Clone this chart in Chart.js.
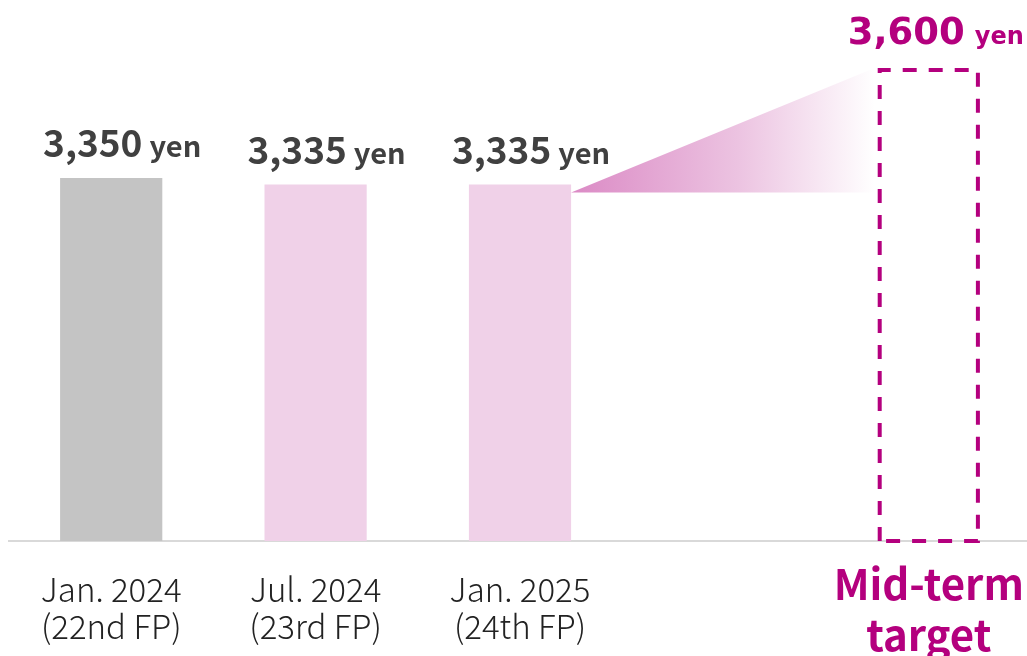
<!DOCTYPE html>
<html>
<head>
<meta charset="utf-8">
<script src="https://cdn.jsdelivr.net/npm/chart.js@4/dist/chart.umd.min.js"></script>
<style>
  html, body { margin: 0; padding: 0; background: #ffffff; overflow: hidden; }
  #wrap { width: 1031px; height: 656px; position: relative; }
</style>
</head>
<body>
<div id="wrap"><canvas id="chart"></canvas></div>
<script>
// Fiscal periods (x-axis), dividend per unit (yen) and styling per bar
const periodLabels = [
  ['Jan. 2024', '(22nd FP)'],
  ['Jul. 2024', '(23rd FP)'],
  ['Jan. 2025', '(24th FP)'],
  '',
  ['Mid-term', '', 'target']
];
const dividends = [3350, 3335, 3335, null, 3600];
const unitText = 'yen';
const barFills = ['#C4C4C4', '#F0D1E8', '#F0D1E8', 'rgba(0,0,0,0)', 'rgba(0,0,0,0)'];
const targetIndex = 4;
const lastActualIndex = 2;

const MAGENTA = '#B4007E';
const GREY_TEXT = '#404040';

const fmt = v => v.toLocaleString('en-US');

// Wedge leading up to the target, dashed target box and value labels
const decorations = {
  id: 'decorations',
  beforeDatasetsDraw(chart) {
    const ctx = chart.ctx;
    const bars = chart.getDatasetMeta(0).data;
    const from = bars[lastActualIndex];
    const to = bars[targetIndex];
    const x0 = from.x + from.width / 2;
    const y0 = from.y + 8;
    const x1 = to.x - to.width / 2 - 3;
    const y1 = to.y - 2;
    const g = ctx.createLinearGradient(x0, 0, x1, 0);
    g.addColorStop(0, '#DB8AC5');
    g.addColorStop(0.55, '#ECC3E1');
    g.addColorStop(1, '#FFFFFF');
    ctx.save();
    ctx.fillStyle = g;
    ctx.beginPath();
    ctx.moveTo(x0, y0);
    ctx.lineTo(x1, y1);
    ctx.lineTo(x1, y0);
    ctx.closePath();
    ctx.fill();
    ctx.restore();
  },
  afterDatasetsDraw(chart) {
    const ctx = chart.ctx;
    const bars = chart.getDatasetMeta(0).data;
    const floor = chart.scales.y.bottom;

    // dashed outline for the target bar
    const t = bars[targetIndex];
    const lw = 4;
    const left = t.x - t.width / 2 + lw / 2;
    const right = t.x + t.width / 2 - lw / 2;
    ctx.save();
    ctx.strokeStyle = MAGENTA;
    ctx.lineWidth = lw;
    ctx.setLineDash([14, 12]);
    ctx.beginPath();
    ctx.moveTo(left, floor);
    ctx.lineTo(left, t.y);
    ctx.lineTo(right, t.y);
    ctx.lineTo(right, floor);
    ctx.closePath();
    ctx.stroke();
    ctx.restore();

    // value labels above each bar
    bars.forEach((bar, i) => {
      const v = dividends[i];
      if (v == null) return;
      const isTarget = i === targetIndex;
      const numFont = isTarget ? 'bold 37px "DejaVu Sans"' : 'bold 37px "Noto Sans CJK JP"';
      const unitFont = isTarget ? 'bold 24px "DejaVu Sans"' : 'bold 29px "Noto Sans CJK JP"';
      const gap = isTarget ? 10 : 7;
      const numText = fmt(v);
      ctx.save();
      ctx.fillStyle = isTarget ? MAGENTA : GREY_TEXT;
      ctx.textBaseline = 'alphabetic';
      ctx.textAlign = 'left';
      ctx.font = numFont;
      const wNum = ctx.measureText(numText).width;
      ctx.font = unitFont;
      const wUnit = ctx.measureText(unitText).width;
      const total = wNum + gap + wUnit;
      const cx = bar.x + (isTarget ? 7 : 11);
      const baseline = bar.y - (isTarget ? 26 : 21);
      const sx = cx - total / 2;
      ctx.font = numFont;
      ctx.fillText(numText, sx, baseline);
      ctx.font = unitFont;
      ctx.fillText(unitText, sx + wNum + gap, baseline);
      ctx.restore();
    });
  }
};

new Chart(document.getElementById('chart'), {
  type: 'bar',
  data: {
    labels: periodLabels,
    datasets: [{
      data: dividends,
      backgroundColor: barFills,
      borderWidth: 0,
      categoryPercentage: 1.0,
      barPercentage: 0.5
    }]
  },
  options: {
    responsive: true,
    maintainAspectRatio: false,
    animation: false,
    layout: { padding: { left: 9, right: 0, top: 0, bottom: 0 } },
    plugins: {
      legend: { display: false },
      tooltip: { enabled: false }
    },
    scales: {
      x: {
        z: 1,
        grid: { display: false, drawTicks: false },
        border: { display: true, color: '#D9D9D9', width: 2 },
        ticks: {
          padding: 30,
          autoSkip: false,
          maxRotation: 0,
          color: c => c.index === targetIndex ? MAGENTA : '#222222',
          font: c => c.index === targetIndex
            ? { family: '"Noto Sans CJK JP"', size: 42, weight: 'bold', lineHeight: '25.5px' }
            : { family: '"Noto Sans CJK JP"', size: 33, weight: '300', lineHeight: '37px' }
        },
        afterFit: s => {
          s.height = 115;
          s.paddingLeft = 0;
          s.paddingRight = 0;
        }
      },
      y: {
        display: false,
        min: 2510,
        max: 3762
      }
    }
  },
  plugins: [decorations]
});
</script>
</body>
</html>
